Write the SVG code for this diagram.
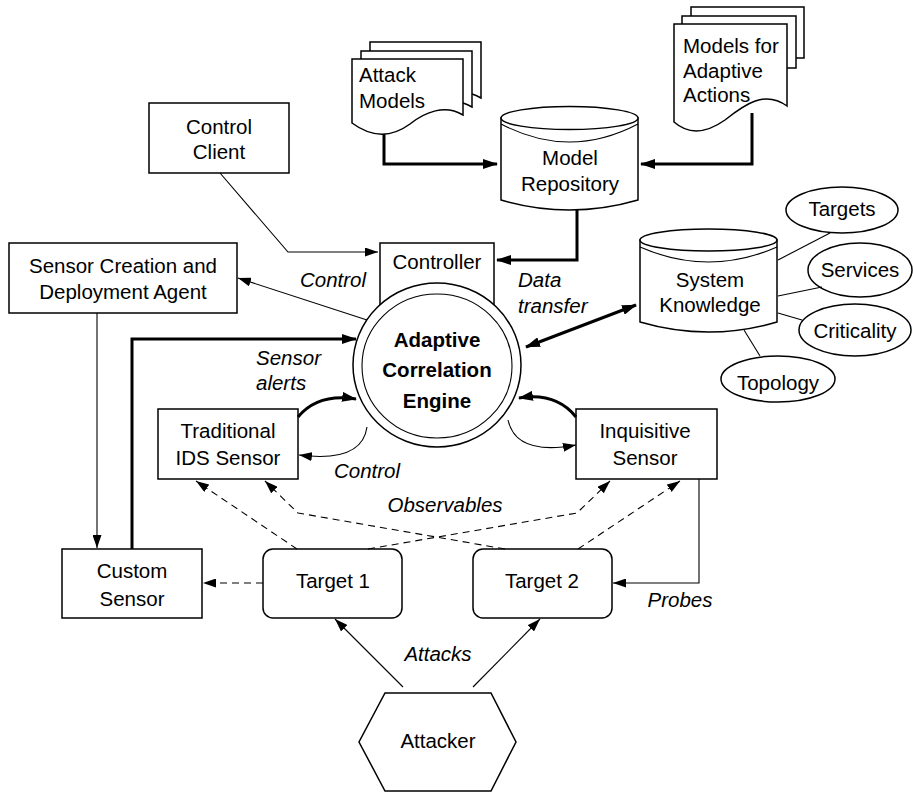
<svg xmlns="http://www.w3.org/2000/svg" width="913" height="792" viewBox="0 0 913 792">
  <defs>
    <marker id="ah" markerUnits="userSpaceOnUse" markerWidth="13" markerHeight="9" refX="13" refY="4.5" orient="auto">
      <path d="M0,0 L13,4.5 L0,9 Z" fill="#000"/>
    </marker>
    <marker id="ahb" markerUnits="userSpaceOnUse" markerWidth="15" markerHeight="10" refX="14" refY="5" orient="auto-start-reverse">
      <path d="M0,0 L15,5 L0,10 Z" fill="#000"/>
    </marker>
    <style>
      .shape { fill: #fff; stroke: #000; stroke-width: 1.5; }
      .thin { fill: none; stroke: #000; stroke-width: 1.1; marker-end: url(#ah); }
      .plain { fill: none; stroke: #000; stroke-width: 1.1; }
      .thick { fill: none; stroke: #000; stroke-width: 3; marker-end: url(#ahb); }
      .dash { fill: none; stroke: #000; stroke-width: 1.1; stroke-dasharray: 7 5; marker-end: url(#ah); }
      text { font-family: "Liberation Sans", Arial, sans-serif; font-size: 20.5px; fill: #000; }
      .c { text-anchor: middle; }
      .b { font-weight: bold; }
      .i { font-style: italic; }
    </style>
  </defs>

  <!-- stacked document: attack models -->
  <g id="attack-models">
    <path class="shape" transform="translate(18,-17)" d="M352,59 H463 V115 C445,104 425,112 410,124 C395,135 375,140 352,123 Z"/>
    <path class="shape" transform="translate(9,-8)" d="M352,59 H463 V115 C445,104 425,112 410,124 C395,135 375,140 352,123 Z"/>
    <path class="shape" d="M352,59 H463 V115 C445,104 425,112 410,124 C395,135 375,140 352,123 Z"/>
    <text x="359" y="82">Attack</text>
    <text x="359" y="108">Models</text>
  </g>

  <!-- stacked document: models for adaptive actions -->
  <g id="adaptive-models">
    <rect class="shape" x="691" y="7" width="113" height="51"/>
    <rect class="shape" x="682" y="16" width="114" height="52"/>
    <path class="shape" d="M674,24 H787 V106 C765,90 745,104 725,120 C708,132 690,136 674,122 Z"/>
    <text x="683" y="53">Models for</text>
    <text x="683" y="78">Adaptive</text>
    <text x="683" y="102">Actions</text>
  </g>

  <!-- model repository (cylinder) -->
  <g id="model-repository">
    <path class="shape" d="M501,118 V200 Q569.5,220 638,200 V118 Z"/>
    <ellipse class="shape" cx="569.5" cy="118" rx="68.5" ry="11.5"/>
    <path class="plain" stroke-width="1.5" d="M501,124 Q569.5,160 638,124"/>
    <text class="c" x="570" y="165">Model</text>
    <text class="c" x="570" y="191">Repository</text>
  </g>

  <g id="control-client">
    <rect class="shape" x="149" y="103" width="140" height="70"/>
    <text class="c" x="219" y="134">Control</text>
    <text class="c" x="219" y="159">Client</text>
  </g>

  <g id="sensor-creation">
    <rect class="shape" x="9" y="243" width="228" height="70"/>
    <text class="c" x="123" y="273">Sensor Creation and</text>
    <text class="c" x="123" y="299">Deployment Agent</text>
  </g>

  <g id="controller">
    <rect class="shape" x="380" y="243" width="114" height="80"/>
    <text class="c" x="437" y="269">Controller</text>
  </g>

  <g id="correlation-engine">
    <ellipse class="shape" cx="437" cy="365" rx="84" ry="82"/>
    <ellipse class="plain" cx="437" cy="366" rx="75" ry="72"/>
    <text class="c b" x="437" y="347">Adaptive</text>
    <text class="c b" x="437" y="377">Correlation</text>
    <text class="c b" x="437" y="408">Engine</text>
  </g>

  <!-- system knowledge (cylinder) with its facets -->
  <g id="system-knowledge">
    <path class="shape" d="M640,240 V322 Q708.5,342 777,322 V240 Z"/>
    <ellipse class="shape" cx="708.5" cy="240" rx="68.5" ry="11"/>
    <path class="plain" stroke-width="1.5" d="M640,247 Q708.5,277 777,247"/>
    <text class="c" x="710" y="287">System</text>
    <text class="c" x="710" y="312">Knowledge</text>
  </g>
  <g id="targets">
    <ellipse class="shape" stroke-width="1.2" cx="842" cy="210" rx="56" ry="23"/>
    <text class="c" x="842" y="216">Targets</text>
  </g>
  <g id="services">
    <ellipse class="shape" stroke-width="1.2" cx="860" cy="270" rx="52" ry="27"/>
    <text class="c" x="860" y="277">Services</text>
  </g>
  <g id="criticality">
    <ellipse class="shape" stroke-width="1.2" cx="855" cy="330" rx="56" ry="26"/>
    <text class="c" x="855" y="338">Criticality</text>
  </g>
  <g id="topology">
    <ellipse class="shape" stroke-width="1.2" cx="778" cy="379" rx="57" ry="23"/>
    <text class="c" x="778" y="390">Topology</text>
  </g>

  <g id="traditional-ids">
    <rect class="shape" x="158" y="409" width="140" height="70"/>
    <text class="c" x="228" y="438">Traditional</text>
    <text class="c" x="228" y="465">IDS Sensor</text>
  </g>

  <g id="inquisitive-sensor">
    <rect class="shape" x="576" y="409" width="141" height="70"/>
    <text class="c" x="645" y="438">Inquisitive</text>
    <text class="c" x="645" y="465">Sensor</text>
  </g>

  <g id="custom-sensor">
    <rect class="shape" x="62" y="549" width="140" height="69"/>
    <text class="c" x="132" y="578">Custom</text>
    <text class="c" x="132" y="606">Sensor</text>
  </g>

  <g id="target-1">
    <rect class="shape" x="263" y="549" width="139" height="69" rx="10"/>
    <text class="c" x="333" y="588">Target 1</text>
  </g>

  <g id="target-2">
    <rect class="shape" x="473" y="549" width="139" height="69" rx="10"/>
    <text class="c" x="542" y="588">Target 2</text>
  </g>

  <g id="attacker">
    <polygon class="shape" points="385,693 491,693 516,742 491,791 385,791 359,742"/>
    <text class="c" x="438" y="748">Attacker</text>
  </g>

  <!-- connectors -->
  <g id="connectors">
    <path class="thick" d="M384,134 V164 H497"/>
    <path class="thick" d="M752,113 V164 H641"/>
    <path class="thick" d="M577,210 V260 H497"/>
    <path class="thin" d="M220,173 L288,252 H378"/>
    <path class="thin" d="M367,320 L238,278"/>
    <path class="thin" d="M97,313 V548"/>
    <path class="thick" d="M132,549 V339 H356"/>
    <path class="thick" marker-start="url(#ahb)" d="M526,347 L636,305"/>
    <path class="plain" d="M778,260 L830,233"/>
    <path class="plain" d="M778,296 L822,287"/>
    <path class="plain" d="M778,313 L802,320"/>
    <path class="plain" d="M744,330 L760,356"/>
    <path class="thick" d="M298,417 Q318,393 356,399"/>
    <path class="thin" d="M367,427 Q362,463 299,455"/>
    <path class="thick" d="M576,417 Q556,392 519,398"/>
    <path class="thin" d="M508,420 Q516,456 576,445"/>
    <path class="thin" d="M699,479 V583 H613"/>
    <path class="dash" d="M263,583 H203"/>
    <path class="dash" d="M297,549 L196,481"/>
    <path class="dash" d="M505,549 L298,513 L265,481"/>
    <path class="dash" d="M368,549 L577,513 L610,481"/>
    <path class="dash" d="M578,549 L680,481"/>
    <path class="thin" d="M403,687 L335,619"/>
    <path class="thin" d="M473,687 L540,619"/>
  </g>

  <!-- connector labels -->
  <g id="labels">
    <text class="c i" x="333" y="287">Control</text>
    <text class="i" x="518" y="287">Data</text>
    <text class="i" x="518" y="313">transfer</text>
    <text class="i" x="256" y="365">Sensor</text>
    <text class="i" x="256" y="390">alerts</text>
    <text class="c i" x="367" y="478">Control</text>
    <text class="c i" x="445" y="512">Observables</text>
    <text class="c i" x="680" y="607">Probes</text>
    <text class="c i" x="438" y="661">Attacks</text>
  </g>
</svg>
